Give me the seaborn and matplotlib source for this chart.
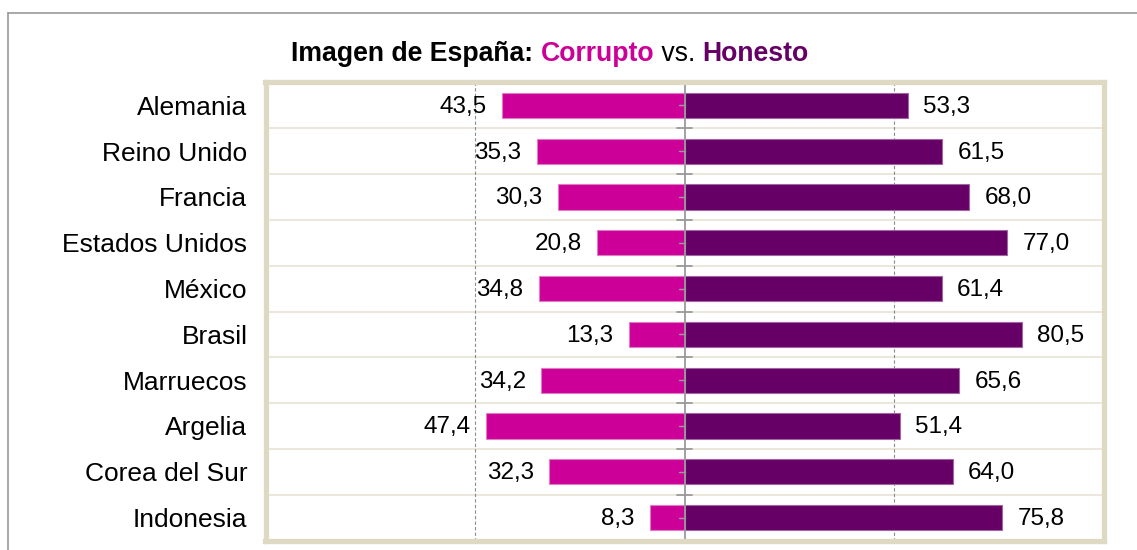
import matplotlib
matplotlib.use("Agg")
import matplotlib.pyplot as plt
import seaborn as sns
import pandas as pd
from matplotlib.lines import Line2D

# --- data ---
countries = ["Alemania", "Reino Unido", "Francia", "Estados Unidos", "México",
             "Brasil", "Marruecos", "Argelia", "Corea del Sur", "Indonesia"]
corrupto = [43.5, 35.3, 30.3, 20.8, 34.8, 13.3, 34.2, 47.4, 32.3, 8.3]
honesto = [53.3, 61.5, 68.0, 77.0, 61.4, 80.5, 65.6, 51.4, 64.0, 75.8]

C_CORR = "#CC0099"
C_HON = "#660066"
FRAME = "#DDD9C3"
ROWLINE = "#E8E4D4"
AXIS_GRAY = "#9A9A9A"

df = pd.DataFrame({"pais": countries,
                   "corrupto": [-v for v in corrupto],
                   "honesto": honesto})

sns.set_style("white")
plt.rcParams["font.family"] = ["Liberation Sans", "DejaVu Sans"]
plt.rcParams["text.color"] = "black"
plt.rcParams["ytick.labelcolor"] = "black"

fig = plt.figure(figsize=(11.37, 5.5), dpi=100)
ax = fig.add_axes([265.5 / 1137, 9.5 / 550, 838 / 1137, 458 / 550])

sns.barplot(data=df, y="pais", x="corrupto", orient="h", color=C_CORR,
            saturation=1, width=0.55, edgecolor="#E07CC4", linewidth=0.8,
            ax=ax, zorder=3)
sns.barplot(data=df, y="pais", x="honesto", orient="h", color=C_HON,
            saturation=1, width=0.55, edgecolor="#A066A0", linewidth=0.8,
            ax=ax, zorder=3)

ax.set_xlim(-100, 100)
ax.set_ylim(len(countries) - 0.5, -0.5)
ax.set_xlabel("")
ax.set_ylabel("")
ax.set_xticks([])
ax.tick_params(axis="y", length=0, pad=13, labelsize=19, labelcolor="black")

# row separators
for i in range(1, len(countries)):
    ax.axhline(i - 0.5, color=ROWLINE, lw=1.2, zorder=1)

# dashed guides at +-50
for x in (-50, 50):
    ax.axvline(x, color="#8C8C8C", lw=0.8, ls=(0, (3, 2)), zorder=2)

# central axis with ticks
ax.axvline(0, color=AXIS_GRAY, lw=1.3, zorder=5)
for i in range(len(countries) + 1):
    ax.plot([-1.9, 1.9], [i - 0.5, i - 0.5], color=AXIS_GRAY, lw=1.3,
            zorder=5, clip_on=False)
for i in range(len(countries)):
    ax.plot([-1.2, 0], [i, i], color=AXIS_GRAY, lw=1.0, zorder=5)

# value labels
for i, (c, h) in enumerate(zip(corrupto, honesto)):
    ax.annotate(f"{c:.1f}".replace(".", ","), xy=(-c, i), xytext=(-11, -1),
                textcoords="offset points", ha="right", va="center",
                fontsize=17.5, color="black", zorder=6)
    ax.annotate(f"{h:.1f}".replace(".", ","), xy=(h, i), xytext=(11, -1),
                textcoords="offset points", ha="left", va="center",
                fontsize=17.5, color="black", zorder=6)

for s in ax.spines.values():
    s.set_color(FRAME)
    s.set_linewidth(3.8)
    s.set_zorder(7)

# title built from coloured pieces
TSIZE = 19.2
parts = [("Imagen de España: ", "black", "bold"),
         ("Corrupto", C_CORR, "bold"),
         (" vs. ", "black", "normal"),
         ("Honesto", C_HON, "bold")]
prev = fig.text(291 / 1137, 1 - 61 / 550, parts[0][0], color=parts[0][1],
                fontweight=parts[0][2], fontsize=TSIZE, va="baseline")
for txt, col, w in parts[1:]:
    prev = plt.annotate(txt, xy=(1, 0), xycoords=prev, color=col,
                        fontweight=w, fontsize=TSIZE, va="bottom",
                        annotation_clip=False)

# outer thin gray border (top and left)
fig.add_artist(Line2D([8 / 1137, 1], [1 - 13 / 550, 1 - 13 / 550],
                      color="#999999", lw=1.2, transform=fig.transFigure))
fig.add_artist(Line2D([8 / 1137, 8 / 1137], [0, 1 - 13 / 550],
                      color="#999999", lw=1.2, transform=fig.transFigure))

fig.savefig("out.png", dpi=100)
